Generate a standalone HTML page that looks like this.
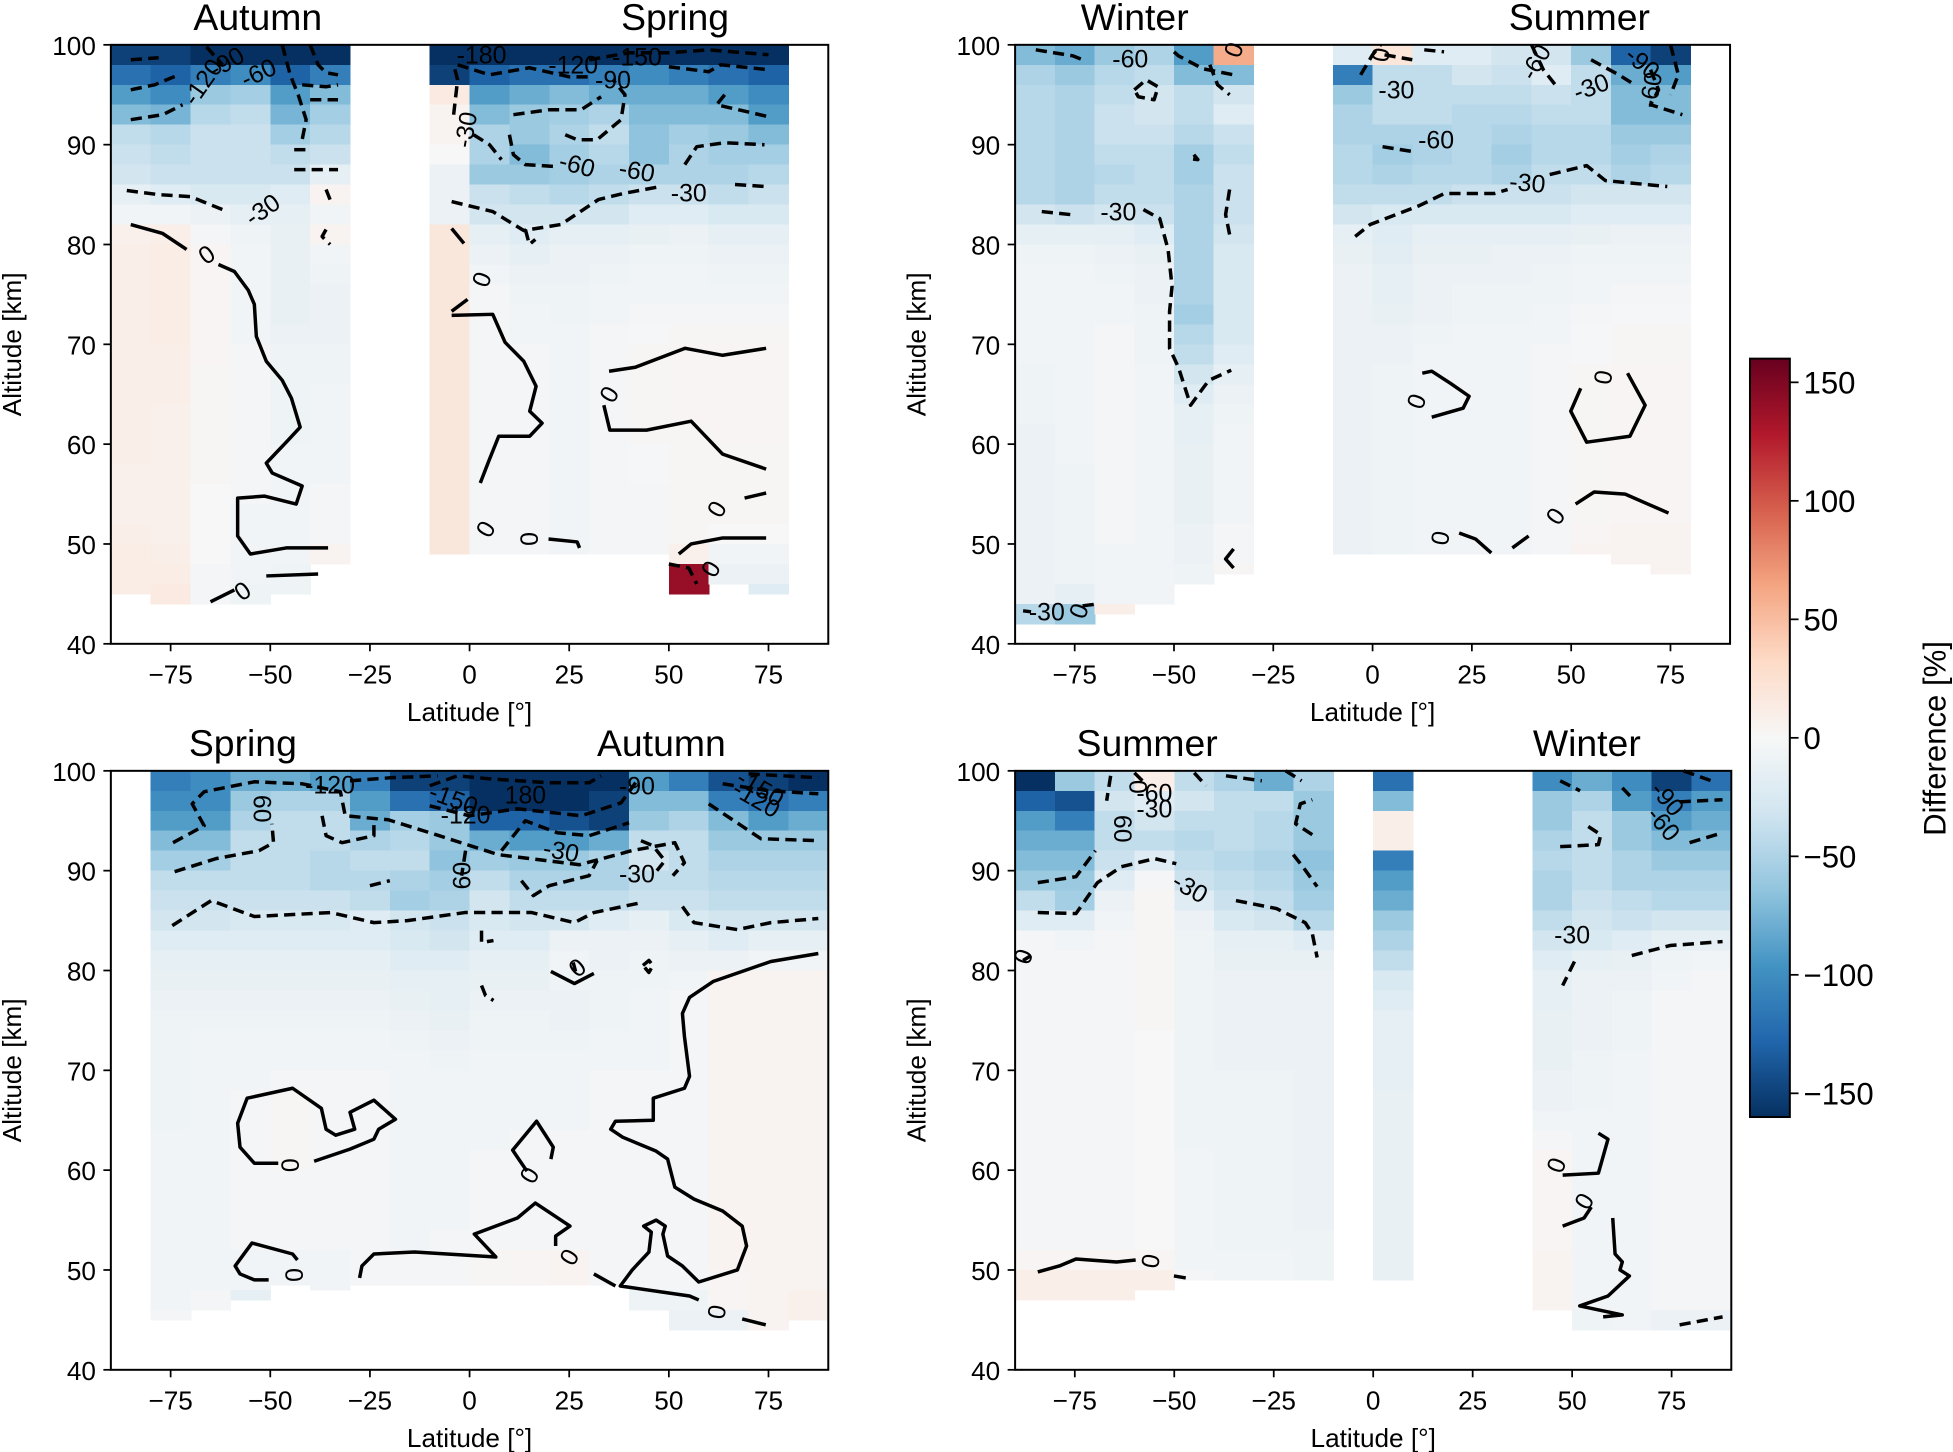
<!DOCTYPE html>
<html><head><meta charset="utf-8"><style>
html,body{margin:0;padding:0;background:#fff;}
svg{display:block;}
text{font-family:"Liberation Sans","DejaVu Sans",sans-serif;}
</style></head><body>
<svg id="fig" xmlns="http://www.w3.org/2000/svg" width="1953" height="1452" viewBox="0 0 1568 1166" preserveAspectRatio="none"></svg>
<script>
// ---------- data ----------
const vmin=-160, vmax=160;
const xTicks=[-75,-50,-25,0,25,50,75];
const yTicks=[100,90,80,70,60,50,40];
const cbTicks=[150,100,50,0,-50,-100,-150];
const cbTickLabels=["150","100","50","0","\u221250","\u2212100","\u2212150"];
const titlesLeft=["Autumn","Winter","Spring","Summer"];
const titlesRight=["Spring","Summer","Autumn","Winter"];

const p1Lats=[-85,-75,-65,-55,-45,-35,-5,5,15,25,35,45,55,65,75];
const p1Bottoms=[45,44,44,44,45,48,49,49,49,49,49,49,45,46,45];
const p1Vals=[
[-150,-120,-90,-70,-40,-35,-30,-15,-5,8,10,10,10,10,10,10,10,10,10,10,10,8,8,8,10,12,12,12],
[-150,-130,-100,-75,-45,-40,-35,-20,-5,10,12,12,12,12,12,10,10,10,8,8,8,8,8,8,8,10,12,15,15],
[-160,-110,-60,-45,-35,-35,-35,-25,-10,-3,3,3,3,3,3,3,2,2,2,2,2,2,0,0,0,0,-3,-3,-3],
[-160,-100,-55,-40,-35,-35,-35,-25,-15,-8,-5,-5,-5,-5,-5,-3,-3,-3,-3,-3,-3,-3,-3,-5,-5,-5,-5,-8,-8],
[-160,-130,-90,-75,-55,-40,-35,-20,-15,-12,-12,-12,-12,-12,-10,-8,-8,-8,-8,-8,-6,-6,-6,-6,-6,-6,-8,-8],
[-160,-110,-70,-55,-45,-35,-15,5,-5,5,-5,-8,-10,-10,-10,-8,-8,-6,-6,-5,-5,-5,-3,-3,-3,5],
[-170,-150,15,5,5,0,-10,-10,-10,18,18,18,18,18,18,18,18,18,18,18,18,18,18,18,18,18],
[-170,-130,-90,-70,-50,-50,-60,-35,-30,-15,-10,-5,-3,-3,-3,-3,-3,-3,-3,-3,-3,-3,-3,-3,-3,-3],
[-170,-120,-80,-60,-60,-70,-60,-40,-30,-20,-15,-10,-8,-5,-5,-3,-3,-3,-3,-3,-3,-3,-3,-3,-3,-3],
[-160,-120,-70,-55,-50,-55,-55,-45,-30,-15,-10,-10,-8,-8,-5,-5,-5,-5,-5,-5,-5,-5,-5,-5,-5,-5],
[-160,-110,-80,-50,-40,-45,-50,-40,-30,-15,-10,-8,-6,-5,-3,-3,-3,-3,-3,-3,-3,-3,-3,-3,-3,-3],
[-160,-100,-80,-70,-65,-65,-50,-35,-20,-12,-8,-6,-5,-3,-2,2,2,2,2,2,-2,-2,-3,-3,-3,-3],
[-160,-110,-80,-70,-55,-50,-50,-35,-20,-10,-8,-6,-5,-3,2,3,3,3,3,2,2,2,2,2,2,8,140,140],
[-160,-120,-90,-70,-60,-55,-50,-40,-25,-15,-10,-8,-5,-3,2,3,3,3,3,3,2,2,2,2,0,-5,-10,-10],
[-160,-130,-100,-90,-70,-55,-45,-35,-25,-15,-10,-8,-5,-3,2,3,3,3,3,3,2,2,2,2,0,-5,-10,-20]
];
const p2Lats=[-85,-75,-65,-55,-45,-35,-5,5,15,25,35,45,55,65,75];
const p2Bottoms=[42,42,43,44,46,47,49,49,49,49,49,49,49,48,47];
const p2Vals=[
[-70,-50,-45,-45,-45,-45,-45,-45,-30,-15,-8,-5,-5,-5,-5,-5,-8,-8,-8,-10,-10,-10,-10,-10,-10,-10,-10,-10,-45],
[-80,-60,-50,-50,-50,-50,-50,-50,-35,-15,-8,-5,-5,-5,-5,-5,-5,-5,-5,-5,-5,-8,-8,-8,-8,-8,-8,-15,-60],
[-60,-45,-40,-35,-35,-40,-45,-40,-30,-15,-10,-8,-5,-5,-3,-3,-3,-3,-3,-3,-3,-3,-3,-3,-3,-5,-5,-5,10],
[-50,-40,-30,-30,-35,-40,-40,-40,-35,-20,-12,-10,-10,-8,-8,-8,-6,-6,-6,-5,-5,-5,-5,-5,-5,-5,-5,-5],
[-90,-70,-40,-40,-45,-55,-55,-50,-50,-50,-50,-50,-50,-55,-45,-40,-30,-20,-15,-15,-12,-12,-12,-12,-10,-10,-8,-8],
[60,-70,-30,-20,-35,-40,-35,-35,-35,-30,-25,-25,-25,-25,-25,-20,-15,-10,-8,-5,-5,-5,-5,-5,-3,-3,2],
[-20,-110,-60,-50,-50,-45,-45,-40,-30,-15,-12,-10,-10,-10,-10,-10,-10,-10,-10,-10,-10,-10,-10,-10,-10,-10],
[20,-40,-40,-40,-50,-55,-50,-40,-25,-20,-18,-15,-15,-12,-10,-10,-8,-8,-8,-8,-8,-8,-8,-8,-8,-8],
[-20,-40,-40,-40,-50,-50,-45,-40,-25,-15,-12,-10,-10,-10,-8,-5,-5,-5,-5,-5,-5,-5,-5,-5,-5,-5],
[-20,-30,-40,-45,-45,-45,-45,-35,-25,-15,-12,-10,-8,-8,-6,-6,-5,-5,-5,-5,-5,-5,-5,-5,-5,-5],
[-30,-35,-40,-45,-50,-55,-50,-35,-25,-15,-10,-10,-8,-8,-5,-5,-5,-5,-5,-5,-5,-5,-5,-5,-5,-5],
[-30,-20,-35,-40,-45,-45,-40,-35,-25,-15,-10,-8,-8,-5,-5,-3,-3,-3,-3,-3,-3,-3,-3,-3,-3,-3],
[-60,-40,-40,-40,-45,-45,-40,-30,-20,-12,-8,-6,-5,-3,-2,-2,2,2,2,2,2,2,2,2,3,5],
[-130,-80,-70,-70,-60,-55,-50,-30,-20,-10,-8,-5,-3,-2,2,2,3,3,3,3,3,3,3,3,5,5,5],
[-150,-90,-70,-70,-60,-50,-45,-30,-20,-10,-8,-5,-3,-2,2,2,3,3,3,3,3,3,3,3,5,5,5,5]
];
const p3Lats=[-75,-65,-55,-45,-35,-25,-15,-5,5,15,25,35,45,55,65,75,85];
const p3Bottoms=[45,46,47,48.5,48,48.5,48.5,48.5,48.5,48.5,48.5,48.5,46,44,44,44,45];
const p3Vals=[
[-110,-100,-90,-70,-55,-40,-35,-30,-20,-15,-12,-10,-8,-8,-8,-8,-8,-8,-6,-6,-6,-6,-6,-5,-5,-5,-5,-3],
[-100,-100,-90,-70,-55,-40,-35,-30,-20,-15,-12,-10,-8,-6,-5,-5,-5,-5,-5,-5,-5,-5,-5,-5,-5,-5,-3],
[-80,-60,-50,-40,-40,-40,-35,-25,-20,-15,-12,-10,-8,-6,-5,-5,-3,-3,-3,-3,-3,-3,-3,-3,-5,-5,-15],
[-80,-50,-40,-40,-40,-40,-35,-25,-20,-15,-12,-10,-8,-6,-5,-3,2,2,2,2,-3,-3,-3,-3,-5,-5],
[-90,-50,-40,-40,-45,-45,-35,-25,-20,-15,-12,-10,-8,-6,-5,-3,-3,-3,-3,-3,-3,-3,-3,-3,-5,-5],
[-110,-90,-80,-50,-40,-45,-40,-20,-20,-15,-12,-10,-8,-6,-5,-3,-3,-3,-3,-3,-3,-3,-3,-3,-3,-3],
[-150,-120,-55,-45,-40,-50,-55,-30,-25,-20,-15,-12,-10,-8,-6,-5,-5,-5,-5,-5,-5,-5,-5,-5,-3,-3],
[-150,-130,-60,-60,-65,-55,-50,-35,-30,-20,-15,-15,-12,-10,-8,-6,-6,-6,-6,-5,-5,-5,-5,-3,-3,-3],
[-170,-170,-130,-80,-55,-40,-30,-25,-20,-15,-12,-10,-8,-8,-6,-5,-5,-5,-5,-3,-3,-3,-3,-3,2,2],
[-170,-170,-130,-90,-60,-50,-40,-30,-20,-15,-12,-10,-8,-8,-6,-5,-5,-5,-3,-3,-3,-3,-3,-3,3,3],
[-170,-160,-140,-90,-60,-50,-40,-30,-10,-5,-8,-10,-10,-8,-6,-5,-5,-5,-3,-3,-3,-3,-3,-3,5,5],
[-160,-150,-150,-80,-50,-50,-40,-20,-10,-10,-8,-8,-8,-6,-5,-3,-3,-3,-3,-3,-3,-3,-3,-3,-3,-3],
[-90,-70,-60,-40,-30,-40,-35,-15,-10,-8,-8,-6,-6,-5,-5,-3,-3,-3,-3,-3,-3,-3,-3,-3,-3,-3,-8],
[-110,-70,-50,-40,-40,-40,-35,-25,-15,-10,-5,-3,-3,-3,-3,-3,-3,-3,-3,-3,-3,-3,-3,-3,-3,-3,-8,-10,-10],
[-140,-110,-70,-60,-50,-45,-40,-30,-20,-10,5,5,5,5,5,5,5,5,5,5,5,5,5,5,5,3,3,-10,-10],
[-150,-120,-90,-60,-50,-45,-40,-30,-15,-5,5,5,5,5,5,5,5,5,5,5,5,5,5,5,5,5,5,5,5],
[-160,-110,-80,-60,-50,-45,-40,-30,-15,-5,5,5,5,5,5,5,5,5,5,5,5,5,5,5,5,5,8,8]
];
const p4Lats=[-85,-75,-65,-55,-45,-35,-25,-15,5,45,55,65,75,85];
const p4Bottoms=[47,47,47,48,49,49,49,49,49,46,44,44,44,44];
const p4Vals=[
[-170,-130,-90,-80,-70,-60,-40,-20,-3,-3,-3,-3,-3,-3,-3,-3,-3,-3,-3,-3,-3,-3,-3,-3,3,10,10],
[-60,-140,-110,-80,-70,-60,-55,-20,-5,-3,-3,-3,-3,-3,-3,-3,-3,-3,-3,-3,-3,-3,-3,-3,3,10,10],
[-40,-30,-40,-40,-35,-20,-10,-5,-3,-3,-3,-3,-3,-3,-3,-3,-3,-3,-3,-3,-3,-3,-3,-3,3,10,10],
[10,-20,-30,-40,-20,-3,2,2,2,2,2,2,2,0,0,0,0,0,0,0,0,0,0,0,3,10],
[-40,-30,-40,-45,-40,-35,-20,-10,-8,-8,-8,-8,-8,-8,-8,-8,-8,-8,-8,-6,-6,-6,-6,-6,-5,-3],
[-50,-40,-40,-40,-45,-40,-35,-25,-15,-12,-10,-10,-10,-10,-10,-8,-8,-8,-8,-8,-8,-8,-8,-8,-6,-5],
[-80,-40,-45,-45,-50,-45,-40,-30,-15,-12,-10,-10,-10,-10,-10,-8,-8,-8,-8,-8,-8,-8,-8,-8,-6,-5],
[-50,-60,-60,-60,-65,-60,-55,-45,-20,-12,-10,-10,-10,-10,-10,-10,-10,-10,-10,-10,-10,-10,-10,-8,-8,-8],
[-120,-70,10,10,-110,-90,-80,-60,-50,-40,-25,-20,-15,-15,-15,-15,-12,-12,-12,-12,-12,-12,-12,-12,-12,-12],
[-100,-60,-60,-50,-45,-50,-50,-40,-30,-20,-15,-15,-12,-12,-12,-10,-10,-6,-3,3,3,3,3,3,5,5,5],
[-80,-50,-40,-40,-40,-40,-35,-30,-25,-15,-10,-10,-10,-10,-8,-8,-8,-6,-6,-5,-5,-5,-5,-5,-5,-5,-5,-8,-20],
[-100,-90,-60,-60,-50,-50,-40,-35,-20,-12,-10,-8,-8,-8,-6,-6,-5,-5,-5,-5,-5,-5,-5,-5,-5,-5,-5,-5,-20],
[-150,-110,-90,-70,-60,-50,-45,-30,-15,-8,-5,-3,-3,-3,-3,-3,-3,-3,-3,-3,-3,-3,-3,-3,-3,-3,-3,-10,-30],
[-120,-90,-80,-70,-60,-50,-45,-30,-15,-5,-3,-3,-3,-3,-3,-3,-3,-3,-3,-3,-3,-3,-3,-3,-3,-3,-3,-10,-30]
];

const p1Contours=[
[0,[[-85,82],[-77,81.1],[-71,79.5]]],
[0,[[-63,78],[-59,77.3],[-55.5,75.4],[-54,74],[-53.5,70.8],[-51,68.3],[-47,66.4],[-44.7,64.6],[-42.5,61.7],[-46,60.2],[-51,58.1],[-49.5,57.1],[-42,55.8],[-43.5,54],[-51.5,54.8],[-58.2,54.6],[-58.2,50.8],[-55,49],[-46,49.6],[-35.5,49.6]]],
[0,[[-65,44.2],[-59,45.4]]],[0,[[-51,46.8],[-38,47]]],
[-30,[[-86,85.4],[-78,85],[-70,84.8],[-62,83.5]]],
[-30,[[-36,85.5],[-35,84.5]]],[-30,[[-36,81.5],[-37,80.8],[-35,80]]],
[-90,[[-85,92.5],[-77,93],[-72,94]]],
[-120,[[-85,95.5],[-79,96],[-73,97]]],
[-150,[[-85,98.5],[-78,98.7]]],
[-90,[[-66,99.8],[-62,98]]],
[-60,[[-47,100],[-45,97],[-43,95],[-41,92.5],[-42,90.5]]],
[-90,[[-40,100],[-38,98],[-36,97.2],[-33,97]]],
[-120,[[-42,96],[-36,95.8],[-33,96]]],
[-120,[[-40,94.5],[-33,94.5]]],
[-60,[[-44,89.5],[-40,89.5]]],[-60,[[-44,87.5],[-33,87.5]]],
[-30,[[-4.5,84.3],[5.8,83.3],[13.6,81.4],[22.9,82],[32.3,84.5],[38.5,85.1],[47.9,85.8]]],
[-30,[[66.6,86],[74.4,85.8]]],
[-30,[[14,81.5],[15,80],[16.5,80.5]]],
[-60,[[10,91],[11,89],[14,88],[22,87.8]]],
[-60,[[54,88],[57,89.8],[64,90.2],[74,90]]],
[-60,[[1,91],[5,90],[8,88.5]]],
[-90,[[11,93],[20,93.5],[28,93.5],[33,94.8]]],
[-90,[[24,91],[27,90.5],[32,90.5],[38,92.5],[39,95],[36,96.5]]],
[-120,[[-3,98],[5,97],[15,97.7],[25,96.8],[30,96.8]]],
[-150,[[30,98.5],[40,99.2],[50,99.2],[60,99.5],[75,99]]],
[-120,[[50,97.8],[60,97.3],[63,98],[75,97.5]]],
[-90,[[64,95],[62,94],[75,92.8]]],
[-30,[[-4,93],[-3,96.5],[-4,98]]],
[0,[[-4.5,81.6],[-1.4,80.1]]],
[0,[[-0.5,74.5],[-4.5,73.3]]],
[0,[[-4.5,72.9],[5.8,73],[8.9,70.2],[13.6,68.3],[16.7,65.8],[15.1,63.3],[18.2,62.1],[15.1,60.8],[7.3,60.8],[4.8,58.3],[2.7,56.1]]],
[0,[[19.8,50.5],[27,50.2],[27.6,49.6]]],
[0,[[35,67.3],[41.6,67.7],[54.1,69.6],[63.5,68.9],[74.4,69.6]]],
[0,[[33.7,63.9],[35.2,61.4],[44.4,61.4],[55.6,62.3],[63.5,59],[74.4,57.5]]],
[0,[[69,54.6],[74.4,55.1]]],
[0,[[52.5,49],[55.6,50],[63.5,50.6],[74.4,50.6]]],
[-30,[[50,48],[55,47.6],[57,46]]]
];
const p2Contours=[
[-30,[[-83.3,83.3],[-76.1,83]]],
[-30,[[-57.7,83.5],[-53.6,82.6],[-51.5,79.5],[-50.5,75.8],[-51.1,73.3],[-51.1,69.6],[-48.9,67.7],[-45.8,63.9],[-42.7,65.6],[-41.2,66.4],[-35.6,67.4]]],
[-30,[[-36,85.5],[-37,83],[-36,81]]],
[-60,[[-84.8,99.5],[-75.5,98.9],[-73,98.5]]],
[-60,[[-50,99.3],[-48.9,98.9],[-42.7,97.6],[-35,97]]],
[-60,[[-60,95.5],[-57,96.5],[-54,95.8],[-55,94.5],[-59,94.8],[-60,95.5]]],
[-60,[[-41,98],[-39,96],[-36,95]]],
[-30,[[-45,89],[-44,88.5],[-46,88.6]]],
[-30,[[-88,43.3],[-86,43.2]]],[-30,[[-73,43.8],[-69,44]]],
[0,[[-35,49.5],[-37,48.5],[-35,47.6]]],
[-30,[[-4.4,80.8],[-0.6,82],[11.8,83.9],[18.1,85.1],[30.6,85.1],[34,85.5]]],
[-30,[[44.6,87],[53.9,87.9],[58.6,86.4],[74.2,85.8]]],
[-60,[[2.5,89.8],[10.3,89.3]]],
[-30,[[-3,97],[0,99],[2,100]]],[-60,[[3,99],[10,98.5]]],[-60,[[13,99.5],[18,99.3]]],
[-60,[[40,100],[43,97.5],[46,96]]],[-30,[[55,98.5],[62,97],[66,96]]],
[-60,[[70,97.5],[72,95.5],[70,94],[78,93]]],[-90,[[75,100],[77,97],[75,95]]],
[0,[[12.5,67.1],[14.9,67.3],[19.6,66.1],[24.3,64.8],[22.8,63.6],[14.9,62.7]]],
[0,[[52.4,65.6],[49.9,63.3],[53.9,60.2],[64.8,60.8],[68.6,63.9],[64.2,67.1]]],
[0,[[21.8,51.1],[25.9,50.5],[29.9,49.1]]],
[0,[[35.2,49.6],[39.3,50.8]]],
[0,[[51.1,54],[55.8,55.2],[63.6,55],[74.5,53.1]]]
];
const p3Contours=[
[-30,[[-74.6,84.5],[-64.8,87],[-54,85.4],[-34.8,85.8],[-24,84.8],[-15.6,85],[-1.2,85.8],[15.6,85.8],[26.3,84.8],[31.2,85.8],[43.2,86.8]]],
[-30,[[53.4,86.4],[56.3,84.8],[67.2,84.1],[75.6,84.8],[87.5,85.2]]],
[-60,[[-74.4,92.8],[-66.6,94.5],[-69.6,96.7],[-66.6,97.9],[-54,98.9],[-42,98.7],[-32.4,97.9],[-31.2,95.5],[-20.4,95.1],[-8.4,93.6],[7.2,91.6],[27.6,90.6],[40.7,92],[51.5,92.8],[53.9,90.8],[51,89.5]]],
[-60,[[-74,89.9],[-63.6,91.2],[-52.8,92],[-49.2,92.8],[-49.6,94.7]]],
[-90,[[60,96.7],[73.1,93.2],[87.5,93]]],
[-120,[[63.5,98.7],[75,98],[87.5,97.7]]],
[-150,[[70,99.7],[87.5,99.3]]],
[-120,[[-30,99],[-20,99.3],[-8,99.5]]],
[-150,[[-10,98.5],[-3,99.5],[5,99.2],[20,98.8],[30,98.8],[33,99.5]]],
[-120,[[-10,96.5],[0,95.5],[12,96.2],[28,95.5],[38,96.8],[42,99]]],
[-90,[[8,92],[10,93],[14,95],[22,93.8],[30,93.5],[40,94.8]]],
[-60,[[-37,95.5],[-36,93.5],[-32,92.8],[-24,93.5],[-24,95]]],
[-60,[[-1,92],[-2,89.5]]],
[-30,[[-25,88.5],[-20,89]]],[-30,[[3,84],[3,82.8],[6,83]]],[-30,[[3,78.5],[4,77.5],[6,77]]],
[-60,[[13,89],[16,87.5],[20,88.5],[30,89.5],[32,91]]],
[-30,[[43,93],[46,92.5],[49,91],[47,90]]],
[-30,[[43.5,80.5],[45,81],[46,80.5],[45,79.8],[43.5,80.5]]],
[0,[[-48,60.7],[-54,60.7],[-57.6,62.3],[-58.2,64.7],[-55.8,67.2],[-44.4,68.2],[-37.2,66.2],[-36,64.1],[-33.6,63.5],[-28.8,64.1],[-30,65.8],[-24,67],[-18.6,65.1],[-22.8,64.1],[-24,63.1],[-30,62.1],[-39,60.9]]],
[0,[[87.5,81.7],[75.6,80.9],[61.1,78.9],[55.2,77.3],[53.4,75.7],[53.9,73.4],[55.2,69.4],[53.9,68.2],[46.1,67.2],[46.1,65],[36.6,64.9],[35.4,64.1],[38.4,63.3],[46.8,61.9],[49.7,61.1],[51.5,58.3],[56.3,57.1],[63.5,55.9],[68.4,54.4],[69.5,52.4],[67.2,50],[57.5,48.8],[53.4,50.4],[49.7,51.4],[48.5,53.6],[49.1,54.4],[46.8,55],[43.7,54.4],[45.6,53.8],[45,51.8],[40.8,50],[37.8,48.4],[55.2,47.4],[57.5,47]]],
[0,[[68.4,45.1],[74.3,44.5]]],
[0,[[-27.6,49.2],[-27,50.4],[-24,51.6],[-13.8,51.8],[6.6,51.3],[1.2,53.6],[12,55.2],[16.5,56.7],[25.2,54.4],[21.6,53.4],[21.6,52.4]]],
[0,[[31.2,49.6],[36.6,48.4]]],
[0,[[-50.4,49],[-54,49],[-57.6,49.6],[-58.8,50.4],[-54.6,52.7],[-44.4,51.6],[-43.2,51]]],
[0,[[20.4,61.1],[21,62.3],[16.8,64.9],[10.8,62],[12.5,61],[14.4,59.9]]],
[0,[[20.4,79.9],[26.3,78.7],[31.2,79.7]]],[0,[[26,80.8],[26.6,79.9]]]
];
const p4Contours=[
[-30,[[-84.3,85.8],[-74.7,85.7],[-69.3,88.8],[-63.3,90.4],[-54.9,91.2],[-49.5,90.7]]],
[-30,[[-34.5,87],[-24.3,86.2],[-17.1,84.8],[-15.3,83.7],[-14.1,81.3]]],
[-60,[[-84.3,88.8],[-74.7,89.4],[-69.8,92]]],
[-60,[[-20.1,91.6],[-17.7,90.4],[-14.1,88.4]]],
[-60,[[-15.3,93.6],[-19.5,94.7],[-18.3,96.7],[-15.3,97.1]]],
[-60,[[-37,99.5],[-28,99]]],[-90,[[-22,100],[-18,99]]],[-60,[[-45,99.8],[-42,98.5]]],
[-60,[[-66,99.5],[-67,97]]],[-30,[[-60,99.8],[-58,99]]],
[-30,[[65,81.5],[74.6,82.5],[87.8,82.9]]],
[-30,[[50.6,80.9],[47.6,78.5]]],
[-60,[[79.5,92.8],[87.8,93.8]]],
[-60,[[47,92.4],[56.6,92.6],[57.2,93.6],[53,94.7]]],
[-90,[[77,96.9],[87.8,97.1]]],[-60,[[62.6,98.3],[65,97.3]]],
[-90,[[47,99],[52,98]]],[-120,[[78,100],[85,99]]],
[0,[[-84.3,49.8],[-78.9,50.4],[-74.7,51.1],[-64.5,50.8],[-59.7,51]]],
[0,[[-50.1,49.4],[-47.1,49.2]]],
[0,[[-88,81],[-86,81.5]]],
[0,[[47.6,54.4],[53,55.2],[54.8,56.3]]],
[0,[[60.2,55.2],[60.8,51.6],[62.6,50.8],[62,50],[64.4,49.4],[59,47.4],[51.9,46.4],[62.6,45.5],[57.8,45.3]]],
[0,[[47.6,59.5],[56.6,59.7],[59,63.1],[56.6,63.7]]],
[-30,[[77,44.5],[87.8,45.3]]]
];
const p1Labels=[["-120",-67,96.3,-55],["-90",-61,98.3,-30],["-60",-53,97.2,-25],["-30",-52,83.5,-35],["0",-66,79,-35],["0",-57,45.3,-35],
["-180",3,99,0],["-120",26,98,0],["-150",42,98.8,0],["-90",36,96.5,0],["-30",-1,91.5,-80],["-60",27,88,15],["-60",42,87.4,10],["-30",55,85.2,0],["0",3,76.5,-70],["0",35,65,-60],["0",4,51.5,-60],["0",15,50.5,-90],["0",62,53.5,-60],["0",60.5,47.5,-60]];
const p2Labels=[["-60",-61,98.6,0],["0",-35,99.5,-70],["-30",-64,83.3,0],["-30",-82,43.2,0],["0",-74,43.3,-70],
["0",2,99,-80],["-30",6,95.5,0],["-60",16,90.5,0],["-30",39,86.2,5],["-60",41,98.3,-60],["-30",55,95.8,-20],["-90",68,98.2,40],["-60",70,95.5,-80],["0",11,64.3,-70],["0",58,66.7,-80],["0",17,50.6,-80],["0",46,52.8,-55]];
const p3Labels=[["-120",-35,98.6,0],["60",-52,96.2,90],["-150",-4,97.2,20],["180",14,97.6,0],["-120",-1,95.6,0],["-90",42,98.5,0],["-150",73,98.3,30],["-120",72,97.2,30],["-30",23,92,10],["-30",42,89.7,0],["60",-2,89.5,-90],["0",-45,60.5,-90],["0",-44,49.5,-90],["0",27,80.3,-40],["0",15,59.5,-60],["0",25,51.3,-60],["0",62,45.8,-80]];
const p4Labels=[["-60",-55,97.8,0],["-30",-55,96.2,0],["0",-59,98.4,-90],["60",-63,94.2,90],["-30",-46,88.3,30],["0",-88,81.4,-70],["0",-56,50.9,-80],["-90",74,97.2,50],["-60",73,94.7,50],["-30",50,83.6,0],["0",46,60.5,-70],["0",53,56.9,-60]];

// ---------- drawing ----------
const NS="http://www.w3.org/2000/svg";
const svg=document.getElementById('fig');
const stops=['#053061','#2166ac','#4393c3','#92c5de','#d1e5f0','#f7f7f7','#fddbc7','#f4a582','#d6604d','#b2182b','#67001f'];
function hex(c){return [parseInt(c.slice(1,3),16),parseInt(c.slice(3,5),16),parseInt(c.slice(5,7),16)];}
function cmap(v){let t=(v-vmin)/(vmax-vmin);t=Math.max(0,Math.min(1,t));const f=t*10;let i=Math.min(9,Math.floor(f));const u=f-i;const a=hex(stops[i]),b=hex(stops[i+1]);return 'rgb('+a.map((x,k)=>Math.round(x+(b[k]-x)*u)).join(',')+')';}
function mk(tag,attrs,parent){const e=document.createElementNS(NS,tag);for(const k in attrs)e.setAttribute(k,attrs[k]);(parent||svg).appendChild(e);return e;}

const panels=[
{x0:89,x1:665,y0:36,y1:517,lats:p1Lats,bottoms:p1Bottoms,vals:p1Vals,contours:p1Contours,labels:p1Labels,tl:207,tr:542,ty:24},
{x0:815,x1:1389,y0:36,y1:517,lats:p2Lats,bottoms:p2Bottoms,vals:p2Vals,contours:p2Contours,labels:p2Labels,tl:911,tr:1268,ty:24},
{x0:89,x1:665,y0:619,y1:1100,lats:p3Lats,bottoms:p3Bottoms,vals:p3Vals,contours:p3Contours,labels:p3Labels,tl:195,tr:531,ty:607},
{x0:815,x1:1390,y0:619,y1:1100,lats:p4Lats,bottoms:p4Bottoms,vals:p4Vals,contours:p4Contours,labels:p4Labels,tl:921,tr:1274,ty:607}
];

panels.forEach((p,pi)=>{
  const sx=lat=>p.x0+(lat+90)/180*(p.x1-p.x0);
  const sy=alt=>p.y1-(alt-40)/60*(p.y1-p.y0);
  const g=mk('g',{});
  
  
  const hm=mk('g',{'shape-rendering':'crispEdges'},g);
  
  
  p.lats.forEach((c,i)=>{
    const col=p.vals[i];
    const la=Math.max(-90,c-5),lb=Math.min(90,c+5);
    for(let k=0;k<col.length;k++){
      const v=col[k]; if(v===null||v===undefined)continue;
      const top=100-2*k; let bot=top-2;
      if(bot<p.bottoms[i])bot=p.bottoms[i];
      if(bot>=top)continue;
      const r=mk('rect',{x:sx(la),y:sy(top),width:sx(lb)-sx(la)+0.6,height:sy(bot)-sy(top)+0.6,fill:cmap(v)},hm);
      
      
    }
  });
  const cg=mk('g',{fill:'none',stroke:'#000','stroke-width':2.8,'stroke-linejoin':'round'},g);
  
  
  p.contours.forEach(ct=>{
    const pts=ct[1].map(q=>sx(q[0]).toFixed(1)+','+sy(q[1]).toFixed(1)).join(' ');
    const pl=mk('polyline',{points:pts},cg);
    if(ct[0]<0)pl.setAttribute('stroke-dasharray','9,5');
    
    
  });
  p.labels.forEach(l=>{
    const x=sx(l[1]),y=sy(l[2]);
    const t=mk('text',{x:x,y:y+7,'font-size':20,'text-anchor':'middle',fill:'#000',transform:'rotate('+l[3]+' '+x+' '+y+')'},g);
    t.textContent=l[0];
    
    
  });
  const fr=mk('rect',{x:p.x0,y:p.y0,width:p.x1-p.x0,height:p.y1-p.y0,fill:'none',stroke:'#000','stroke-width':1.6},g);
  
  
  xTicks.forEach(v=>{
    const x=sx(v);
    const tk=mk('line',{x1:x,x2:x,y1:p.y1,y2:p.y1+6,stroke:'#000','stroke-width':1.4},g);
    
    
    const t=mk('text',{x:x,y:p.y1+32,'font-size':21,'text-anchor':'middle'},g);
    t.textContent=v<0?'\u2212'+(-v):String(v);
    
    
  });
  yTicks.forEach(v=>{
    const y=sy(v);
    const tk=mk('line',{x1:p.x0-6,x2:p.x0,y1:y,y2:y,stroke:'#000','stroke-width':1.4},g);
    
    
    const t=mk('text',{x:p.x0-12,y:y+8,'font-size':21,'text-anchor':'end'},g);
    t.textContent=String(v);
    
    
  });
  const xl=mk('text',{x:(p.x0+p.x1)/2,y:p.y1+62,'font-size':21,'text-anchor':'middle'},g);
  xl.textContent='Latitude [\u00b0]';
  
  
  const yc=(p.y0+p.y1)/2, yx=p.x0-72;
  const yl=mk('text',{x:yx,y:yc,'font-size':21,'text-anchor':'middle',transform:'rotate(-90 '+yx+' '+yc+')'},g);
  yl.textContent='Altitude [km]';
  
  
  const t1=mk('text',{x:p.tl,y:p.ty,'font-size':30,'text-anchor':'middle'},g);
  t1.textContent=titlesLeft[pi];
  
  
  const t2=mk('text',{x:p.tr,y:p.ty,'font-size':30,'text-anchor':'middle'},g);
  t2.textContent=titlesRight[pi];
  
  
});

const cb={x0:1405,x1:1437,y0:288,y1:897};
const cy=v=>cb.y1-(v-vmin)/(vmax-vmin)*(cb.y1-cb.y0);
const defs=mk('defs',{});
const lg=mk('linearGradient',{id:'cbg',x1:0,y1:1,x2:0,y2:0},defs);
for(let i=0;i<=40;i++){const v=vmin+(vmax-vmin)*i/40;mk('stop',{offset:(i/40),'stop-color':cmap(v)},lg);}
const cbg=mk('g',{});


const cbr=mk('rect',{x:cb.x0,y:cb.y0,width:cb.x1-cb.x0,height:cb.y1-cb.y0,fill:'url(#cbg)',stroke:'#000','stroke-width':1.6},cbg);


cbTicks.forEach((v,i)=>{
  const y=cy(v);
  const tk=mk('line',{x1:cb.x1,x2:cb.x1+7,y1:y,y2:y,stroke:'#000','stroke-width':1.4},cbg);
  
  
  const t=mk('text',{x:cb.x1+11,y:y+9,'font-size':25,'font-family':'DejaVu Sans, sans-serif'},cbg);
  t.textContent=cbTickLabels[i];
  
  
});
const dl=mk('text',{x:1562,y:593,'font-size':25,'text-anchor':'middle',transform:'rotate(-90 1562 593)'},cbg);
dl.textContent='Difference [%]';


</script>
</body></html>
